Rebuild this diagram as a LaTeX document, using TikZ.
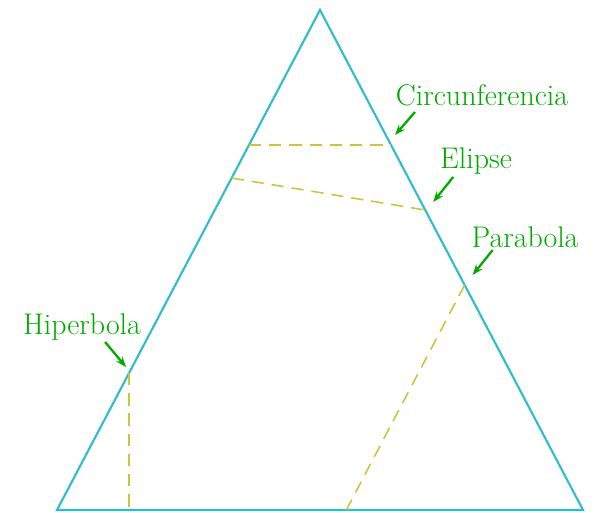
\documentclass[tikz,border=0pt]{standalone}
\usepackage{tikz}
\usetikzlibrary{arrows.meta,calc,positioning}
\definecolor{conecyan}{RGB}{45,190,205}
\definecolor{cutolive}{RGB}{205,195,60}
\definecolor{labgreen}{RGB}{0,170,0}
\tikzset{
  cone/.style={conecyan,line width=1.2pt,line join=miter},
  cut/.style={cutolive,line width=0.9pt,dash pattern=on 7pt off 4.5pt},
  pointer/.style={-{Stealth[length=6pt,width=4.5pt]},labgreen,line width=1.3pt},
  curvename/.style={labgreen,font=\fontsize{17}{20}\selectfont}
}
\begin{document}
\begin{tikzpicture}[x=0.02cm,y=-0.02cm]
 \useasboundingbox (0,0) rectangle (594,513);
 % cone section
 \coordinate (A) at (320,10);
 \coordinate (B) at (57,510);
 \coordinate (C) at (583,510);
 \draw[cone] (A) -- (B) -- (C) -- cycle;
 % cutting planes
 \coordinate (c1) at ($(A)!0.27!(B)$);
 \coordinate (c2) at ($(A)!0.27!(C)$);
 \coordinate (e1) at ($(A)!0.336!(B)$);
 \coordinate (e2) at ($(A)!0.4!(C)$);
 \coordinate (p1) at ($(A)!0.55!(C)$);
 \coordinate (p2) at ($(B)!0.55!(C)$);
 \coordinate (h1) at ($(A)!0.726!(B)$);
 \coordinate (h2) at (h1 |- B);
 \draw[cut] (c1) -- (c2);
 \draw[cut] (e1) -- (e2);
 \draw[cut] (p1) -- (p2);
 \draw[cut] (h1) -- (h2);
 % names
 \node[curvename] (lcirc) at (482,95) {Circunferencia};
 \node[curvename] (lelip) at (476,161) {Elipse};
 \node[curvename] (lpar) at (525,237) {Parabola};
 \node[curvename] (lhip) at (82,327) {Hiperbola};
 \coordinate (tcirc) at ($(c2)+(24,-33)$);
 \coordinate (hcirc) at ($(c2)+(4,-10)$);
 \coordinate (telip) at ($(e2)+(28,-33)$);
 \coordinate (helip) at ($(e2)+(8,-8)$);
 \coordinate (tpar) at ($(p1)+(28,-35)$);
 \coordinate (hpar) at ($(p1)+(8,-10)$);
 \coordinate (thip) at ($(h1)+(-24,-31)$);
 \coordinate (hhip) at ($(h1)+(-3,-6)$);
 \draw[pointer] (tcirc) -- (hcirc);
 \draw[pointer] (telip) -- (helip);
 \draw[pointer] (tpar) -- (hpar);
 \draw[pointer] (thip) -- (hhip);
\end{tikzpicture}
\end{document}
